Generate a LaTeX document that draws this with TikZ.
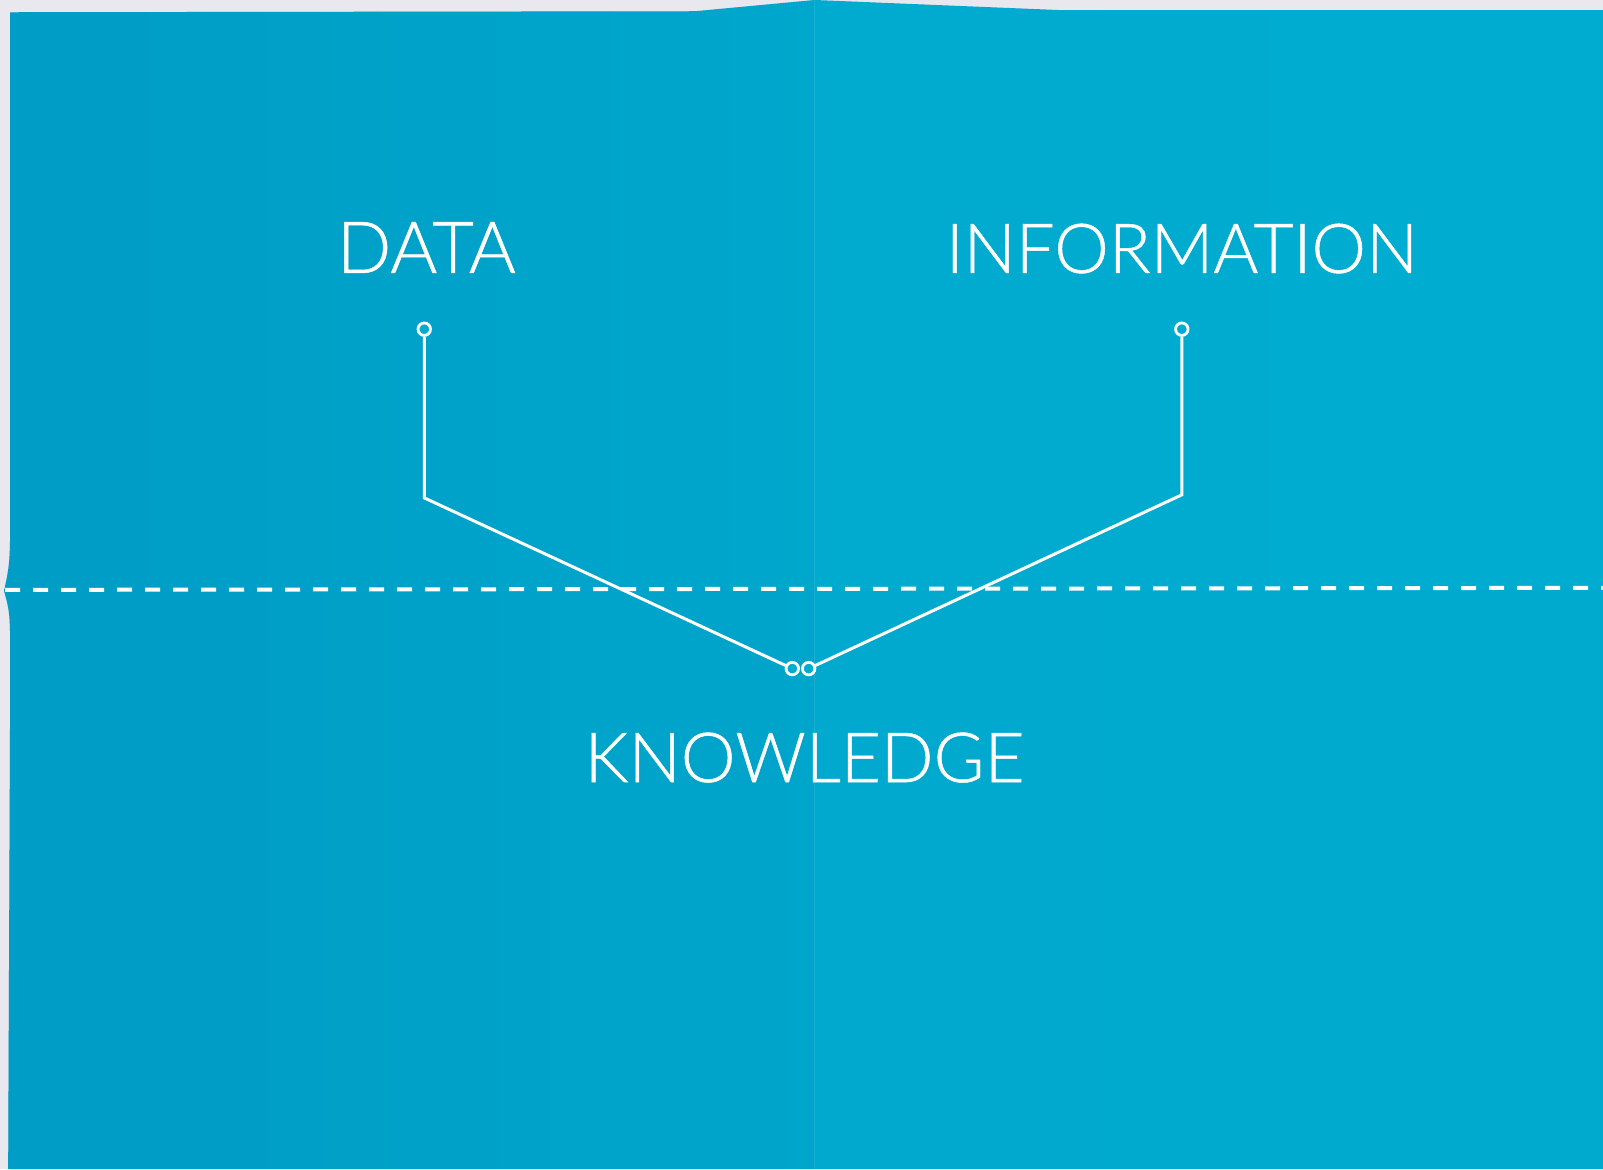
\documentclass[tikz,border=0pt]{standalone}
\usepackage{fontspec}
\setmainfont{Lato}[UprightFont=* Light]
\definecolor{bgray}{HTML}{E8E8EE}
\definecolor{paperA}{HTML}{009DC6}
\definecolor{paperB}{HTML}{00ACD0}
\begin{document}
\begin{tikzpicture}[x=1.0223pt,y=-1.0223pt,
  lbl/.style={text=white,font=\fontsize{66}{70}\selectfont\addfontfeatures{FakeBold=0.7},inner sep=0pt,anchor=base},
  ring/.style={circle,draw=white,line width=2.8pt,fill=paperB,minimum size=12.5pt,inner sep=0pt},
  conn/.style={draw=white,line width=3pt},
  fold/.style={dash pattern=on 15pt off 13pt,line width=4pt,draw=white}]
\useasboundingbox (0,0) rectangle (1568,1143.5);
\fill[bgray] (0,0) rectangle (1568,1143.5);
% paper
\path[left color=paperA,right color=paperB,middle color=paperB!92!paperA]
  (10,12) -- (680,11) -- (797,0) -- (1040,10) -- (1568,10) -- (1568,1143.5)
  -- (8,1143.5) -- (10,660) .. controls (10,600) .. (4,578) .. controls (10,550) .. (10,480) -- cycle;
\fill[paperA,opacity=0.25] (10,12) -- (680,11) -- (797,0) -- (797,1143.5) -- (8,1143.5)
  -- (10,660) .. controls (10,600) .. (4,578) .. controls (10,550) .. (10,480) -- cycle;
\fill[paperA,opacity=0.12] (4,578) -- (1568,576) -- (1568,1143.5) -- (8,1143.5) -- (10,660) .. controls (10,600) .. (4,578) -- cycle;
\draw[white,opacity=0.10,line width=1pt] (797,0) -- (797,1143.5);
% fold line
\coordinate (fl) at (5,577);
\coordinate (fr) at (1568,575);
\draw[fold] (fl) -- (fr);
% labels
\node[lbl] (data) at (417,267) {\resizebox{179pt}{!}{DATA}};
\node[lbl] (info) at (1156,267) {\resizebox{472pt}{!}{INFORMATION}};
\node[lbl] (know) at (787,765) {\resizebox{440pt}{!}{KNOWLEDGE}};
% rings
\node[ring] (d1) at (415,322) {};
\node[ring] (i1) at (1156,322) {};
\node[ring] (k1) at (775,654) {};
\node[ring] (k2) at (791,654) {};
\coordinate (dc) at (415,487);
\coordinate (ic) at (1156,484);
\draw[conn] (d1) -- (dc) -- (k1);
\draw[conn] (i1) -- (ic) -- (k2);
\end{tikzpicture}
\end{document}
